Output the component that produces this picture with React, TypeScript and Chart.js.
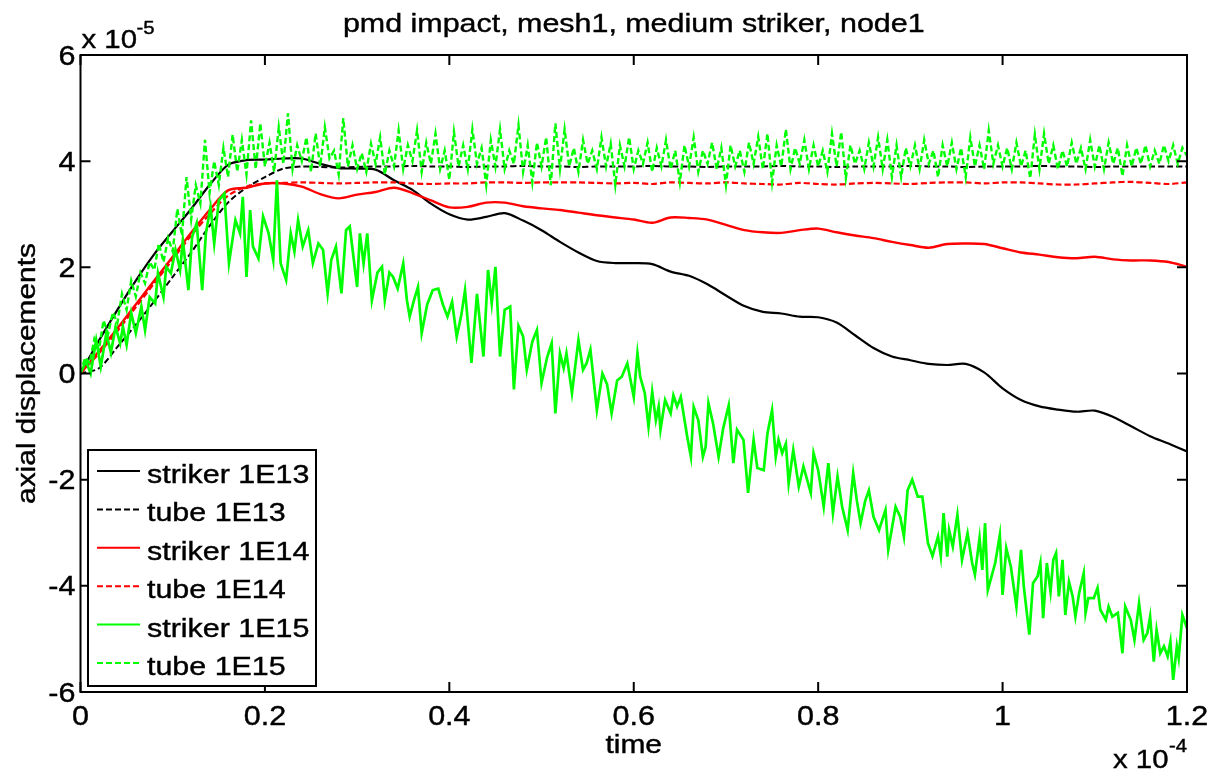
import React, { useEffect, useRef } from "react";
import { Chart, registerables } from "chart.js";

Chart.register(...registerables);

const W = 1208;
const H = 773;
const FONT_FAMILY = "'Liberation Sans', Arial, Helvetica, sans-serif";

const chartTitle = "pmd impact, mesh1, medium striker, node1";
const xAxisTitle = "time";
const yAxisTitle = "axial displacements";
const multiplierBase = "x 10";
const xMultiplierExp = "-4";
const yMultiplierExp = "-5";

const xTickValues = [0, 0.2, 0.4, 0.6, 0.8, 1, 1.2];
const xTickLabels = ["0", "0.2", "0.4", "0.6", "0.8", "1", "1.2"];
const yTickValues = [-6, -4, -2, 0, 2, 4, 6];
const yTickLabels = ["-6", "-4", "-2", "0", "2", "4", "6"];

const seriesLabels = [
  "striker 1E13",
  "tube 1E13",
  "striker 1E14",
  "tube 1E14",
  "striker 1E15",
  "tube 1E15",
];
const seriesColors = ["#000000", "#000000", "#ff0000", "#ff0000", "#00ff00", "#00ff00"];
const seriesDashed = [false, true, false, true, false, true];

// time in units of 1e-4, displacement in units of 1e-5
const timeCoarse = [
  0, 0.02, 0.04, 0.06, 0.08, 0.1, 0.12, 0.14, 0.16, 0.18,
  0.2, 0.22, 0.24, 0.26, 0.28, 0.3, 0.32, 0.34, 0.36, 0.38,
  0.4, 0.42, 0.44, 0.46, 0.48, 0.5, 0.52, 0.54, 0.56, 0.58,
  0.6, 0.62, 0.64, 0.66, 0.68, 0.7, 0.72, 0.74, 0.76, 0.78,
  0.8, 0.82, 0.84, 0.86, 0.88, 0.9, 0.92, 0.94, 0.96, 0.98,
  1.0, 1.02, 1.04, 1.06, 1.08, 1.1, 1.12, 1.14, 1.16, 1.18,
  1.2,
];

const striker1E13 = [
  0, 0.62, 1.2, 1.75, 2.25, 2.68, 3.1, 3.55, 3.93, 4.02,
  4.03, 4.05, 4.05, 3.95, 3.87, 3.86, 3.84, 3.64, 3.46, 3.2,
  3.0, 2.9, 2.95, 3.02, 2.88, 2.7, 2.48, 2.28, 2.12, 2.08,
  2.08, 2.06, 1.92, 1.84, 1.68, 1.47, 1.27, 1.16, 1.13, 1.07,
  1.06, 0.96, 0.72, 0.48, 0.32, 0.25, 0.18, 0.16, 0.18, 0.02,
  -0.28, -0.5, -0.62, -0.68, -0.72, -0.7, -0.82, -1.0, -1.18, -1.32,
  -1.47,
];

const tube1E13 = [
  0, 0.1, 0.5, 0.92, 1.36, 1.82, 2.28, 2.78, 3.22, 3.5,
  3.7, 3.86, 3.9, 3.89, 3.88, 3.89, 3.9, 3.9, 3.91, 3.9,
  3.9, 3.89, 3.9, 3.9, 3.91, 3.9, 3.9, 3.89, 3.9, 3.9,
  3.9, 3.91, 3.9, 3.9, 3.89, 3.9, 3.9, 3.9, 3.91, 3.9,
  3.9, 3.89, 3.9, 3.9, 3.9, 3.91, 3.9, 3.9, 3.89, 3.9,
  3.9, 3.9, 3.91, 3.9, 3.9, 3.89, 3.9, 3.9, 3.9, 3.9,
  3.9,
];

const striker1E14 = [
  0, 0.42, 0.85, 1.3, 1.75, 2.2, 2.65, 3.08, 3.45, 3.5,
  3.58, 3.58, 3.52, 3.38, 3.3, 3.37, 3.42, 3.5, 3.4, 3.26,
  3.13, 3.14, 3.22, 3.22, 3.15, 3.11, 3.08, 3.03, 2.98, 2.94,
  2.9, 2.84, 2.94, 2.93, 2.9, 2.8, 2.7, 2.66, 2.65, 2.7,
  2.73, 2.66, 2.6, 2.55, 2.48, 2.42, 2.37, 2.44, 2.45, 2.44,
  2.36, 2.28, 2.24, 2.19, 2.17, 2.2, 2.15, 2.13, 2.13, 2.1,
  2.01,
];

const tube1E14 = [
  0, 0.38, 0.8, 1.25, 1.7, 2.15, 2.6, 3.0, 3.35, 3.52,
  3.58, 3.59, 3.6, 3.59, 3.58, 3.59, 3.6, 3.6, 3.58, 3.57,
  3.58, 3.58, 3.6, 3.6, 3.59, 3.6, 3.6, 3.6, 3.59, 3.58,
  3.59, 3.57, 3.6, 3.59, 3.58, 3.6, 3.58, 3.57, 3.56, 3.59,
  3.57, 3.56, 3.58, 3.59, 3.58, 3.57, 3.59, 3.6, 3.6, 3.58,
  3.6, 3.6, 3.58, 3.56, 3.56, 3.58, 3.6, 3.61, 3.59, 3.57,
  3.6,
];

// sampling grid of the tube 1E15 trace (step 0.005e-4)
const timeFine = Array.from({ length: 241 }, (_, i) => (i * 5) / 1000);

const tube1E15 = [
  0, 0.3, 0.2, 0.65, 0.45, 1.0, 0.75, 1.15, 0.95, 1.5, 1.2, 1.75, 1.45, 1.9, 1.7, 2.1, 1.95, 2.45, 2.1, 2.55,
  2.3, 3.1, 2.6, 3.7, 2.9, 3.55, 3.2, 4.4, 3.4, 4.0, 3.55, 4.25, 3.7, 4.5, 3.8, 4.4, 3.75, 4.77, 3.85, 4.71,
  3.9, 4.35, 3.8, 4.64, 3.95, 4.9, 3.85, 4.3, 4.0, 4.45, 3.8, 4.52, 3.9, 4.64, 4.05, 4.2, 3.75, 4.81, 3.9, 4.3,
  3.85, 4.15, 3.8, 4.33, 3.95, 4.45, 3.75, 4.2, 3.9, 4.58, 3.85, 4.3, 4.0, 4.58, 3.8, 4.35, 3.95, 4.52, 3.85, 4.2,
  3.65, 4.55, 3.9, 4.3, 3.85, 4.6, 3.95, 4.25, 3.55, 4.4, 3.9, 4.6, 3.85, 4.2, 3.95, 4.68, 3.8, 4.3, 3.6, 4.35,
  3.9, 4.45, 3.55, 4.71, 3.85, 4.6, 3.9, 4.25, 3.8, 4.4, 3.95, 4.2, 3.85, 4.45, 3.9, 4.33, 3.55, 4.3, 3.9, 4.45,
  3.85, 4.2, 3.95, 4.35, 3.8, 4.25, 3.9, 4.4, 3.85, 4.2, 3.6, 4.3, 3.9, 4.45, 3.8, 4.2, 3.95, 4.35, 3.85, 4.25,
  3.55, 4.3, 3.9, 4.2, 3.8, 4.35, 3.95, 4.46, 3.85, 4.52, 3.6, 4.3, 3.9, 4.6, 3.85, 4.25, 3.95, 4.4, 3.85, 4.3,
  3.9, 4.2, 3.8, 4.52, 3.9, 4.55, 3.68, 4.3, 3.95, 4.2, 3.85, 4.35, 3.9, 4.45, 3.85, 4.4, 3.7, 4.3, 3.7, 4.25,
  3.9, 4.3, 3.85, 4.4, 3.95, 4.2, 3.7, 4.3, 3.9, 4.35, 3.85, 4.25, 3.7, 4.45, 3.9, 4.3, 3.85, 4.58, 3.95, 4.3,
  3.9, 4.25, 3.85, 4.35, 3.9, 4.2, 3.68, 4.5, 3.85, 4.52, 3.95, 4.3, 3.85, 4.2, 3.9, 4.35, 3.95, 4.25, 3.85, 4.4,
  3.9, 4.3, 3.85, 4.35, 3.95, 4.25, 3.72, 4.3, 3.9, 4.25, 3.95, 4.3, 3.9, 4.2, 3.95, 4.3, 4.0, 4.3, 3.95, 4.25,
  4.1,
];

const striker1E15Time = [
  0, 0.006, 0.011, 0.017, 0.022, 0.028, 0.033, 0.038, 0.043, 0.046,
  0.05, 0.055, 0.06, 0.066, 0.07, 0.075, 0.081, 0.084, 0.09, 0.093,
  0.098, 0.103, 0.108, 0.111, 0.117, 0.121, 0.126, 0.132, 0.136, 0.141,
  0.145, 0.15, 0.156, 0.161, 0.168, 0.173, 0.176, 0.18, 0.184, 0.187,
  0.193, 0.198, 0.204, 0.209, 0.213, 0.217, 0.223, 0.228, 0.232, 0.236,
  0.241, 0.247, 0.252, 0.258, 0.263, 0.268, 0.272, 0.277, 0.283, 0.288,
  0.292, 0.296, 0.3, 0.303, 0.307, 0.311, 0.316, 0.322, 0.327, 0.33,
  0.335, 0.339, 0.344, 0.35, 0.354, 0.357, 0.362, 0.366, 0.37, 0.376,
  0.382, 0.388, 0.393, 0.398, 0.403, 0.408, 0.413, 0.417, 0.424, 0.43,
  0.437, 0.442, 0.446, 0.45, 0.455, 0.46, 0.466, 0.47, 0.475, 0.48,
  0.484, 0.49, 0.495, 0.5, 0.506, 0.511, 0.515, 0.52, 0.524, 0.527,
  0.533, 0.54, 0.545, 0.549, 0.553, 0.56, 0.566, 0.571, 0.576, 0.582,
  0.587, 0.593, 0.6, 0.604, 0.607, 0.612, 0.616, 0.62, 0.624, 0.627,
  0.629, 0.634, 0.64, 0.643, 0.647, 0.651, 0.658, 0.662, 0.665, 0.67,
  0.675, 0.678, 0.681, 0.686, 0.692, 0.697, 0.703, 0.708, 0.712, 0.719,
  0.724, 0.73, 0.734, 0.741, 0.745, 0.75, 0.754, 0.757, 0.761, 0.765,
  0.768, 0.773, 0.779, 0.784, 0.788, 0.792, 0.795, 0.8, 0.806, 0.811,
  0.816, 0.821, 0.826, 0.832, 0.838, 0.842, 0.846, 0.851, 0.855, 0.86,
  0.866, 0.873, 0.876, 0.884, 0.889, 0.893, 0.897, 0.902, 0.908, 0.913,
  0.919, 0.924, 0.93, 0.933, 0.936, 0.94, 0.942, 0.946, 0.951, 0.956,
  0.962, 0.967, 0.97, 0.975, 0.978, 0.981, 0.984, 0.989, 0.992, 0.997,
  1.0, 1.004, 1.009, 1.015, 1.02, 1.023, 1.029, 1.033, 1.038, 1.041,
  1.044, 1.048, 1.052, 1.055, 1.058, 1.061, 1.065, 1.068, 1.072, 1.076,
  1.079, 1.083, 1.088, 1.09, 1.093, 1.099, 1.103, 1.106, 1.112, 1.115,
  1.119, 1.125, 1.13, 1.133, 1.139, 1.143, 1.148, 1.153, 1.157, 1.16,
  1.164, 1.167, 1.171, 1.175, 1.179, 1.182, 1.185, 1.189, 1.191, 1.195,
  1.2,
];

const striker1E15 = [
  0, 0.23, 0, 0.63, 0.13, 0.76, 0.39, 0.88, 0.57, 0.88,
  0.54, 1.14, 0.76, 1.26, 0.82, 1.44, 1.32, 1.89, 1.44, 2.01,
  1.89, 2.33, 1.95, 2.51, 1.57, 2.57, 2.83, 1.57, 2.64, 3.14,
  2.45, 3.26, 3.39, 2.08, 2.89, 2.64, 3.33, 1.82, 3.08, 2.39,
  2.17, 2.96, 2.64, 2.14, 3.64, 2.08, 1.76, 2.64, 2.3, 2.89,
  2.39, 2.7, 2.08, 2.45, 2.33, 1.51, 2.14, 2.39, 1.51, 2.7,
  2.77, 2.2, 1.63, 2.64, 2.07, 2.64, 1.38, 1.9, 2.01, 1.38,
  1.9, 1.82, 1.6, 2.07, 1.38, 1.07, 1.4, 1.63, 0.76, 1.3,
  1.57, 1.6, 1.3, 1.07, 1.35, 0.69, 1.1, 1.57, 0.2, 1.5,
  0.32, 1.95, 1.32, 2.01, 0.32, 1.2, 1.26, -0.3, 0.9, 0.7,
  0.07, 0.6, 0.82, -0.18, 0.3, 0.57, -0.75, 0.38, 0.1, 0.38,
  -0.37, 0.63, 0.07, 0.2, 0.45, -0.69, 0, -0.2, -0.75, -0.13,
  -0.06, 0.19, -0.44, 0.38, -0.06, -0.37, -1.0, -0.34, -0.88, -0.62,
  -1.06, -0.5, -0.75, -0.41, -0.62, -0.44, -1.19, -1.57, -0.63, -0.88,
  -1.57, -1.38, -0.56, -0.94, -1.57, -1.03, -0.6, -1.69, -1.06, -1.25,
  -2.25, -1.25, -1.78, -1.82, -1.13, -0.69, -1.57, -1.25, -1.5, -1.32,
  -2.07, -1.44, -2.13, -1.75, -2.0, -2.25, -1.5, -1.82, -2.51, -1.69,
  -2.63, -1.94, -2.51, -2.95, -1.88, -2.4, -2.82, -2.4, -2.2, -2.7,
  -2.95, -2.57, -3.32, -2.51, -2.7, -3.07, -2.2, -2.0, -2.32, -2.32,
  -3.19, -3.44, -3.07, -3.44, -2.63, -3.45, -2.95, -3.26, -2.66, -3.51,
  -3.01, -3.57, -3.79, -3.1, -3.7, -2.82, -4.08, -3.76, -3.57, -3.04,
  -4.17, -3.29, -3.64, -4.39, -3.32, -4.01, -4.92, -3.95, -3.82, -3.57,
  -4.61, -3.57, -4.11, -3.51, -3.38, -4.2, -3.51, -4.55, -3.92, -4.2,
  -4.58, -4.14, -3.76, -4.51, -4.23, -4.23, -4.04, -4.45, -4.64, -4.39,
  -4.58, -4.51, -5.27, -4.39, -4.64, -5.02, -4.33, -5.02, -4.89, -4.58,
  -5.43, -4.83, -5.27, -5.14, -5.33, -5.05, -5.77, -5.14, -5.36, -4.55,
  -4.8,
];

const pair = (xs: number[], ys: number[]) => ys.map((y, i) => ({ x: xs[i], y }));

function drawText(
  ctx: CanvasRenderingContext2D,
  text: string,
  x: number,
  y: number,
  size: number,
  align: CanvasTextAlign,
  stretch = 1.15,
  rotate = 0
) {
  ctx.save();
  ctx.font = `${size}px ${FONT_FAMILY}`;
  ctx.fillStyle = "#000";
  ctx.strokeStyle = "#000";
  ctx.lineWidth = 0.4;
  ctx.textAlign = align;
  ctx.textBaseline = "alphabetic";
  ctx.translate(x, y);
  if (rotate) ctx.rotate(rotate);
  ctx.scale(stretch, 1);
  ctx.fillText(text, 0, 0);
  ctx.strokeText(text, 0, 0);
  ctx.restore();
}

const decorPlugin = {
  id: "matlabDecor",
  beforeDraw(chart: any) {
    const ctx = chart.ctx as CanvasRenderingContext2D;
    ctx.save();
    ctx.fillStyle = "#ffffff";
    ctx.fillRect(0, 0, chart.width, chart.height);
    ctx.restore();
  },
  afterDatasetsDraw(chart: any) {
    const ctx = chart.ctx as CanvasRenderingContext2D;
    const a = chart.chartArea;
    const xs = chart.scales.x;
    const ys = chart.scales.y;
    const tick = 10;

    ctx.save();
    ctx.strokeStyle = "#000";
    ctx.lineWidth = 2;
    ctx.setLineDash([]);
    ctx.beginPath();
    xTickValues.forEach((v) => {
      const px = xs.getPixelForValue(v);
      ctx.moveTo(px, a.bottom);
      ctx.lineTo(px, a.bottom - tick);
      ctx.moveTo(px, a.top);
      ctx.lineTo(px, a.top + tick);
    });
    yTickValues.forEach((v) => {
      const py = ys.getPixelForValue(v);
      ctx.moveTo(a.left, py);
      ctx.lineTo(a.left + tick, py);
      ctx.moveTo(a.right, py);
      ctx.lineTo(a.right - tick, py);
    });
    ctx.stroke();
    ctx.strokeRect(a.left, a.top, a.right - a.left, a.bottom - a.top);
    ctx.restore();

    const tickSize = 27;
    xTickValues.forEach((v, i) => {
      drawText(ctx, xTickLabels[i], xs.getPixelForValue(v), a.bottom + 33, tickSize, "center", 1.13);
    });
    yTickValues.forEach((v, i) => {
      const py = ys.getPixelForValue(v);
      drawText(ctx, yTickLabels[i], a.left - 5, py + 0.358 * tickSize, tickSize, "right", 1.13);
    });

    drawText(ctx, multiplierBase, a.left + 1, 48, 26, "left", 1.13);
    drawText(ctx, yMultiplierExp, a.left + 56, 34, 18, "left", 1.13);
    drawText(ctx, multiplierBase, a.right - 74, 768, 26, "left", 1.13);
    drawText(ctx, xMultiplierExp, a.right - 18, 752, 18, "left", 1.13);

    const cx = (a.left + a.right) / 2;
    drawText(ctx, chartTitle, cx, 32, 26, "center", 1.17);
    drawText(ctx, xAxisTitle, cx, 753, 26, "center", 1.15);
    drawText(ctx, yAxisTitle, 35, (a.top + a.bottom) / 2, 26, "center", 1.15, -Math.PI / 2);

    const lx = a.left + 7.5;
    const lr = 316;
    const lt = 450;
    const lb = a.bottom - 6;
    ctx.save();
    ctx.fillStyle = "#fff";
    ctx.fillRect(lx, lt, lr - lx, lb - lt);
    ctx.strokeStyle = "#000";
    ctx.lineWidth = 2;
    ctx.strokeRect(lx, lt, lr - lx, lb - lt);
    ctx.restore();
    seriesLabels.forEach((label, i) => {
      const base = 483 + i * 38.4;
      ctx.save();
      ctx.strokeStyle = seriesColors[i];
      ctx.lineWidth = 2;
      ctx.setLineDash(seriesDashed[i] ? [6, 3] : []);
      ctx.beginPath();
      ctx.moveTo(97, base - 12);
      ctx.lineTo(140, base - 12);
      ctx.stroke();
      ctx.restore();
      drawText(ctx, label, 147, base, 26, "left", 1.17);
    });
  },
};

export default function App() {
  const canvasRef = useRef<HTMLCanvasElement | null>(null);

  useEffect(() => {
    document.body.style.margin = "0";
    const canvas = canvasRef.current;
    if (!canvas) return;

    const dataArrays = [
      pair(timeCoarse, striker1E13),
      pair(timeCoarse, tube1E13),
      pair(timeCoarse, striker1E14),
      pair(timeCoarse, tube1E14),
      pair(striker1E15Time, striker1E15),
      pair(timeFine, tube1E15),
    ];

    const widths = [2.2, 2, 2.4, 2.2, 2.7, 2.4];

    const datasets = dataArrays.map((d, i) => ({
      label: seriesLabels[i],
      data: d,
      borderColor: seriesColors[i],
      backgroundColor: seriesColors[i],
      borderWidth: widths[i],
      borderDash: seriesDashed[i] ? [6, 3] : [],
      pointRadius: 0,
      tension: i < 4 ? 0.3 : 0,
      fill: false,
      order: 6 - i,
    }));

    const chart = new Chart(canvas, {
      type: "line",
      data: { datasets },
      options: {
        animation: false,
        responsive: false,
        devicePixelRatio: 1,
        layout: { padding: { top: 55, right: 21, bottom: 0, left: 0 } },
        plugins: {
          legend: { display: false },
          title: { display: false },
          tooltip: { enabled: false },
        },
        scales: {
          x: {
            type: "linear",
            min: 0,
            max: 1.2,
            afterBuildTicks: (s: any) => {
              s.ticks = xTickValues.map((v) => ({ value: v }));
            },
            afterFit: (s: any) => {
              s.height = 81;
            },
            grid: { display: false, drawTicks: false },
            border: { display: false },
            ticks: { display: false },
          },
          y: {
            type: "linear",
            min: -6,
            max: 6,
            afterBuildTicks: (s: any) => {
              s.ticks = yTickValues.map((v) => ({ value: v }));
            },
            afterFit: (s: any) => {
              s.width = 80.5;
            },
            grid: { display: false, drawTicks: false },
            border: { display: false },
            ticks: { display: false },
          },
        },
      } as any,
      plugins: [decorPlugin],
    });

    return () => {
      chart.destroy();
    };
  }, []);

  return (
    <div style={{ position: "absolute", left: 0, top: 0, width: W, height: H, background: "#fff" }}>
      <canvas ref={canvasRef} width={W} height={H} style={{ display: "block", width: W, height: H }} />
    </div>
  );
}
